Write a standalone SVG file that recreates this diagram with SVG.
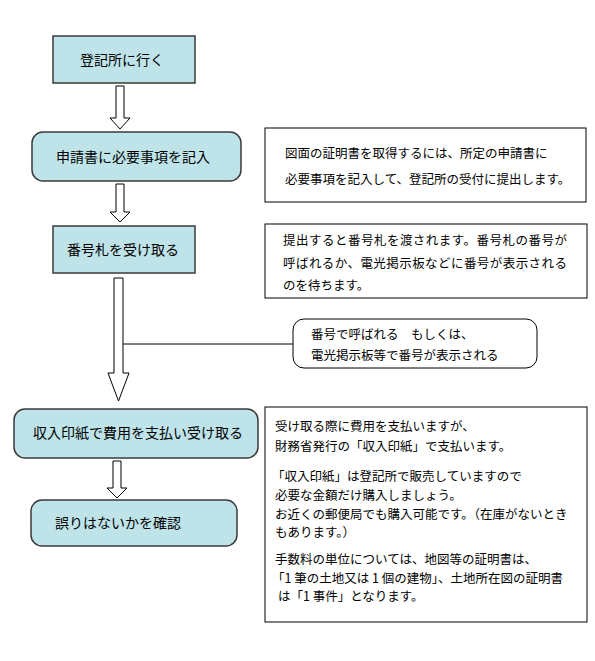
<svg xmlns="http://www.w3.org/2000/svg" width="595" height="661" viewBox="0 0 595 661">
<style>
.bg{fill:#ffffff}
.node{fill:#bee3e9;stroke:#3a3a3a;stroke-width:1.5}
.note{fill:#ffffff;stroke:#000000;stroke-width:1}
.arrow{fill:#ffffff;stroke:#000000;stroke-width:1}
.line{stroke:#000000;stroke-width:1;fill:none}
.t{font-family:"Noto Sans CJK JP","Noto Sans",sans-serif;font-size:14px;fill:#000000}
.s{font-family:"Noto Sans CJK JP","Noto Sans",sans-serif;font-size:12.5px;fill:#000000}
</style>
<rect class="bg" x="0" y="0" width="595" height="661"/>
<g id="connectors">
<polygon id="arrow1" class="arrow" points="116,86 124,86 124,118 130,118 120,129 110,118 116,118"/>
<polygon id="arrow2" class="arrow" points="116,184 124,184 124,212 130,212 120,222 110,212 116,212"/>
<polygon id="arrow3" class="arrow" points="114,278 123,278 123,373 129,373 118.5,401 108,373 114,373"/>
<line class="line" x1="123" y1="344" x2="293" y2="344"/>
<polygon id="arrow4" class="arrow" points="113,461 121,461 121,488 127,488 117,498 107,488 113,488"/>
</g>
<g id="n1">
<rect class="node" x="53" y="36" width="142" height="47"/>
<text class="t" x="80" y="65">登記所に行く</text>
</g>
<g id="n2">
<rect class="node" x="32" y="132" width="209" height="49" rx="11"/>
<text class="t" x="56" y="162">申請書に必要事項を記入</text>
</g>
<g id="n3">
<rect class="node" x="53" y="226" width="142" height="47"/>
<text class="t" x="67" y="255">番号札を受け取る</text>
</g>
<g id="n4">
<rect class="node" x="14" y="409" width="244" height="49" rx="11"/>
<text class="t" x="33" y="438">収入印紙で費用を支払い受け取る</text>
</g>
<g id="n5">
<rect class="node" x="31" y="500" width="206" height="46" rx="11"/>
<text class="t" x="55" y="528">誤りはないかを確認</text>
</g>
<g id="noteA">
<rect class="note" x="265" y="128" width="321" height="74"/>
<text class="s" x="285" y="157.5">図面の証明書を取得するには、所定の申請書に</text>
<text class="s" x="285" y="183.5">必要事項を記入して、登記所の受付に提出します。</text>
</g>
<g id="noteB">
<rect class="note" x="265" y="224" width="322" height="74"/>
<text class="s" x="283" y="244.5" textLength="284">提出すると番号札を渡されます。番号札の番号が</text>
<text class="s" x="283" y="267.5" textLength="284">呼ばれるか、電光掲示板などに番号が表示される</text>
<text class="s" x="283" y="289.5">のを待ちます。</text>
</g>
<g id="callout">
<rect class="note" x="293" y="319" width="244" height="49" rx="11"/>
<text class="s" x="311" y="339">番号で呼ばれる　もしくは、</text>
<text class="s" x="311" y="360">電光掲示板等で番号が表示される</text>
</g>
<g id="noteC">
<rect class="note" x="265" y="407" width="322" height="215"/>
<text class="s" x="275" y="431">受け取る際に費用を支払いますが、</text>
<text class="s" x="275" y="451">財務省発行の「収入印紙」で支払います。</text>
<text class="s" x="272" y="481">「収入印紙」は登記所で販売していますので</text>
<text class="s" x="275" y="500">必要な金額だけ購入しましょう。</text>
<text class="s" x="275" y="519">お近くの郵便局でも購入可能です。（在庫がないとき</text>
<text class="s" x="275" y="537">もあります。）</text>
<text class="s" x="275" y="564">手数料の単位については、地図等の証明書は、</text>
<text class="s" x="272" y="583">「1 筆の土地又は 1 個の建物」、土地所在図の証明書</text>
<text class="s" x="278" y="601">は「1 事件」となります。</text>
</g>
</svg>
